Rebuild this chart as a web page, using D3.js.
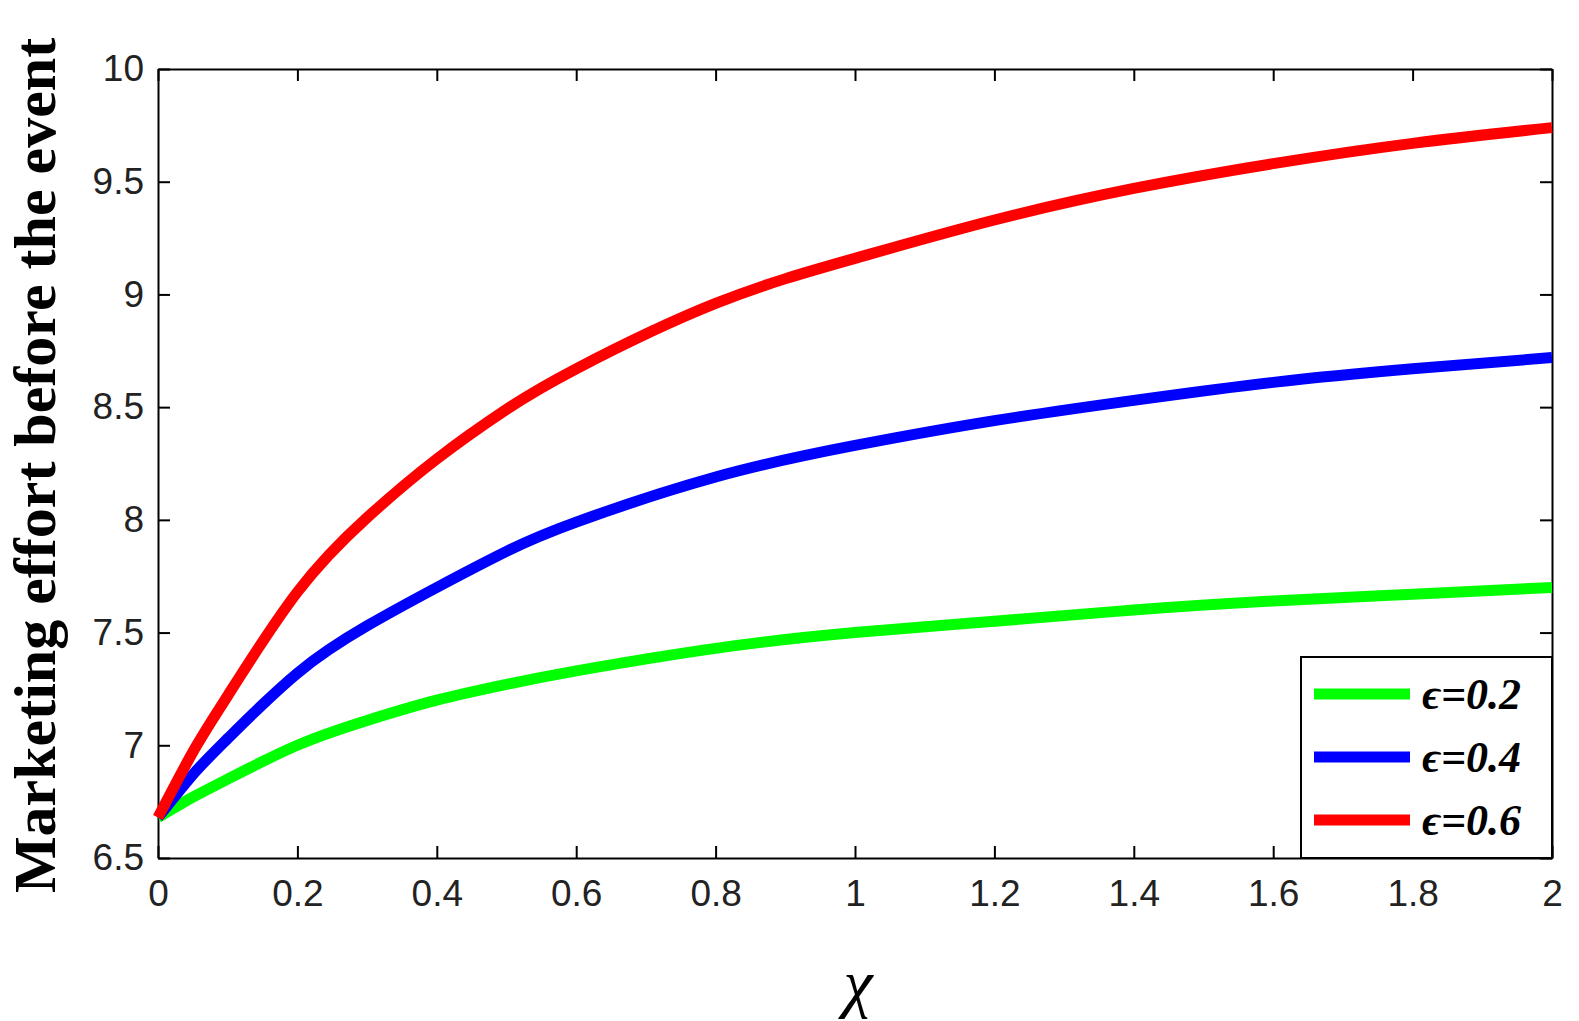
<!DOCTYPE html>
<html><head><meta charset="utf-8">
<script src="https://cdn.jsdelivr.net/npm/d3@7"></script>
<style>body{margin:0;background:#fff;overflow:hidden}</style>
</head><body>
<svg id="chart" width="1579" height="1021"></svg>
<script>
const xs = [0, 0.05, 0.1, 0.2, 0.3, 0.4, 0.5, 0.6, 0.8, 1.0, 1.2, 1.4, 1.6, 1.8, 2.0];
const green = [6.68, 6.77, 6.85, 7.0, 7.11, 7.2, 7.27, 7.33, 7.43, 7.5, 7.55, 7.6, 7.64, 7.67, 7.7];
const blue  = [6.68, 6.87, 7.03, 7.32, 7.53, 7.7, 7.86, 7.99, 8.19, 8.33, 8.44, 8.53, 8.61, 8.67, 8.72];
const red   = [6.68, 6.97, 7.22, 7.68, 8.01, 8.27, 8.49, 8.67, 8.96, 9.16, 9.33, 9.47, 9.58, 9.67, 9.74];
const labels = ['ϵ=0.2', 'ϵ=0.4', 'ϵ=0.6'];
const colors = ['#00ff00', '#0000ff', '#ff0000'];
const xTicks = [0, 0.2, 0.4, 0.6, 0.8, 1, 1.2, 1.4, 1.6, 1.8, 2];
const yTicks = [6.5, 7, 7.5, 8, 8.5, 9, 9.5, 10];

const svg = d3.select('#chart');
const L = 158, R = 1552, T = 69, B = 858;
const x = d3.scaleLinear().domain([0, 2]).range([L, R]);
const y = d3.scaleLinear().domain([6.5, 10]).range([B, T]);

const font = 'Arial, "Liberation Sans", sans-serif';
const xAxis = svg.append('g').attr('transform', `translate(0,${B})`)
  .call(d3.axisBottom(x).tickValues(xTicks).tickSizeInner(-12).tickSizeOuter(0).tickPadding(22).tickFormat(d3.format('')));
const xTop = svg.append('g').attr('transform', `translate(0,${T})`)
  .call(d3.axisTop(x).tickValues(xTicks).tickSizeInner(-12).tickSizeOuter(0).tickFormat(''));
const yAxis = svg.append('g').attr('transform', `translate(${L},0)`)
  .call(d3.axisLeft(y).tickValues(yTicks).tickSizeInner(-12).tickSizeOuter(0).tickPadding(14).tickFormat(d3.format('')));
const yRight = svg.append('g').attr('transform', `translate(${R},0)`)
  .call(d3.axisRight(y).tickValues(yTicks).tickSizeInner(-12).tickSizeOuter(0).tickFormat(''));
[xAxis, xTop, yAxis, yRight].forEach(g => {
  g.selectAll('path,line').attr('stroke', '#000').attr('stroke-width', 2);
  g.selectAll('text').attr('font-family', font).attr('font-size', 37).attr('fill', '#222');
});

const line = d3.line().x((d, i) => x(xs[i])).y(d => y(d)).curve(d3.curveNatural);
[green, blue, red].forEach((s, k) => {
  svg.append('path').datum(s).attr('d', line).attr('fill', 'none')
    .attr('stroke', colors[k]).attr('stroke-width', 11);
});

// legend
const lg = svg.append('g');
lg.append('rect').attr('x', 1301).attr('y', 657).attr('width', 251).attr('height', 201)
  .attr('fill', '#fff').attr('stroke', '#000').attr('stroke-width', 2);
labels.forEach((t, k) => {
  const yy = 694 + k * 63;
  lg.append('line').attr('x1', 1314).attr('x2', 1410).attr('y1', yy).attr('y2', yy)
    .attr('stroke', colors[k]).attr('stroke-width', 11);
  lg.append('text').attr('x', 1422).attr('y', yy + 15).text(t)
    .attr('font-family', '"Liberation Serif", "Times New Roman", serif')
    .attr('font-weight', 'bold').attr('font-style', 'italic').attr('font-size', 44);
});

svg.append('text').attr('x', 858).attr('y', 1005).attr('text-anchor', 'middle')
  .attr('font-family', '"Liberation Serif", serif').attr('font-style', 'italic').attr('font-size', 66).text('χ');
svg.append('text').attr('transform', `translate(55,${(T + B) / 2 + 2}) rotate(-90)`)
  .attr('text-anchor', 'middle').attr('font-family', '"Liberation Serif", serif').attr('font-weight', 'bold')
  .attr('font-size', 60).text('Marketing effort before the event');
</script>
</body></html>
